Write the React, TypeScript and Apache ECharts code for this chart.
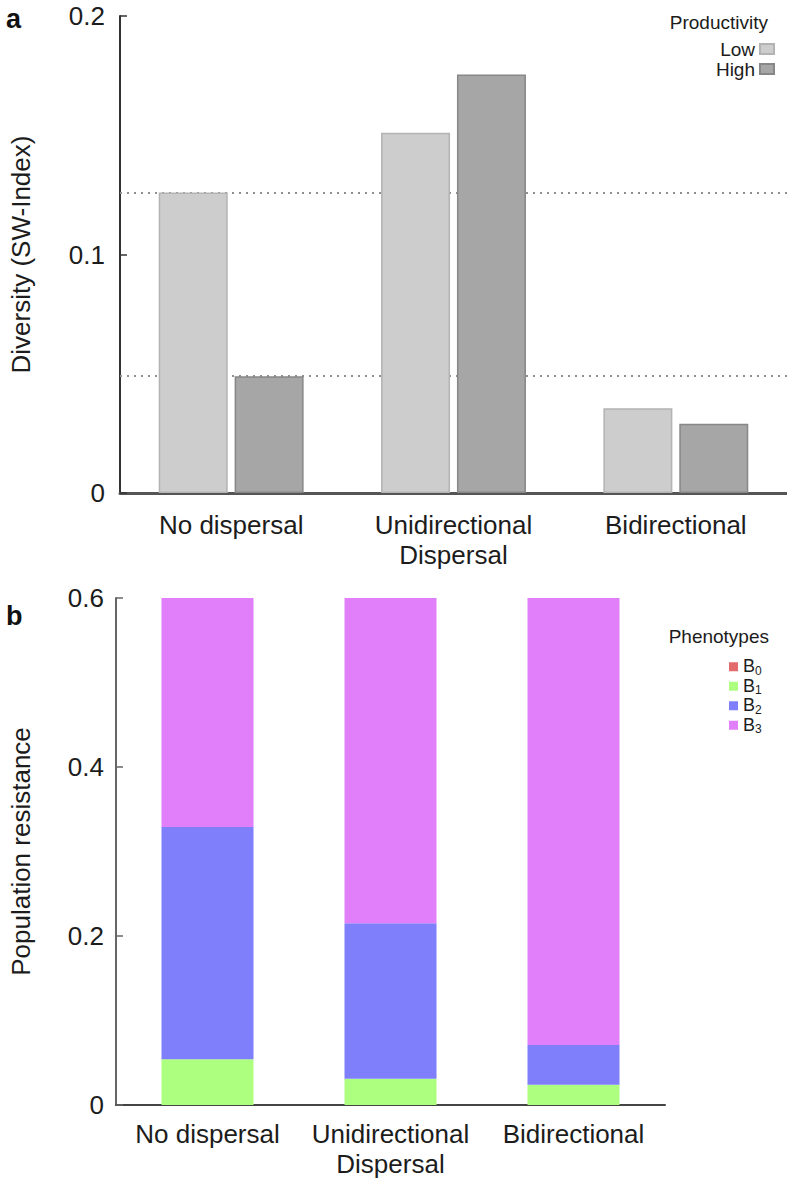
import React, { useEffect, useRef } from "react";
import * as echarts from "echarts";

const categories = ["No dispersal", "Unidirectional\nDispersal", "Bidirectional"];

// Panel a: diversity (SW-Index)
const productivityNames = ["Low", "High"];
const diversityLow = [0.126, 0.151, 0.0355];
const diversityHigh = [0.049, 0.1755, 0.029];
const diversityAxis = { min: 0, max: 0.2, interval: 0.1 };

// Panel b: population resistance by phenotype (stacked segments)
const phenotypeNames = ["B0", "B1", "B2", "B3"];
const phenoB0 = [0, 0, 0];
const phenoB1 = [0.054, 0.031, 0.024];
const phenoB2 = [0.275, 0.184, 0.047];
const phenoB3 = [0.271, 0.385, 0.529];
const resistanceAxis = { min: 0, max: 0.6, interval: 0.2 };

const FONT = "'Liberation Sans', Arial, Helvetica, sans-serif";
const TXT = "#1c1c1c";

export default function App() {
  const ref = useRef<HTMLDivElement>(null);

  useEffect(() => {
    document.body.style.margin = "0";
    if (!ref.current) return;
    const chart = echarts.init(ref.current, null, { renderer: "svg" });

    const phenoColors = ["#e46b6b", "#adff80", "#7f7ffc", "#e07ff9"];
    const phenoData = [phenoB0, phenoB1, phenoB2, phenoB3];

    const option: any = {
      animation: false,
      backgroundColor: "#ffffff",
      textStyle: { fontFamily: FONT, color: TXT },
      title: [
        { text: "a", left: 1, top: 0, textStyle: { fontFamily: FONT, fontSize: 27, fontWeight: "bold", color: "#111" } },
        { text: "b", left: 1, top: 597, textStyle: { fontFamily: FONT, fontSize: 27, fontWeight: "bold", color: "#111" } },
        { text: "Productivity", right: 14, top: 8, textStyle: { fontFamily: FONT, fontSize: 19, fontWeight: "normal", color: TXT } },
        { text: "Phenotypes", right: 13, top: 622, textStyle: { fontFamily: FONT, fontSize: 19, fontWeight: "normal", color: TXT } },
      ],
      legend: [
        {
          data: productivityNames,
          orient: "vertical",
          right: 12,
          top: 39,
          align: "right",
          itemWidth: 14,
          itemHeight: 10,
          itemGap: 0,
          padding: 0,
          icon: "rect",
          textStyle: { fontFamily: FONT, fontSize: 19, color: TXT, lineHeight: 20 },
        },
        {
          data: phenotypeNames,
          orient: "vertical",
          left: 729,
          top: 657,
          align: "left",
          itemWidth: 9,
          itemHeight: 9,
          itemGap: 0,
          padding: 0,
          icon: "rect",
          formatter: (name: string) => `{b|B}{s|${name.slice(1)}}`,
          textStyle: {
            fontFamily: FONT,
            color: TXT,
            lineHeight: 19.5,
            rich: {
              b: { fontFamily: FONT, fontSize: 18, color: TXT, lineHeight: 19.5, verticalAlign: "top" },
              s: { fontFamily: FONT, fontSize: 12, color: TXT, lineHeight: 19.5, verticalAlign: "bottom" },
            },
          },
        },
      ],
      grid: [
        { left: 113, top: 16, width: 674, height: 477, containLabel: false },
        { left: 111, top: 598, width: 554, height: 507, containLabel: false },
      ],
      xAxis: [
        {
          type: "category",
          gridIndex: 0,
          data: categories,
          axisLine: { lineStyle: { color: "#555", width: 3 } },
          axisTick: { show: false },
          axisLabel: { interval: 0, fontFamily: FONT, fontSize: 26, color: TXT, margin: 17, lineHeight: 30 },
        },
        {
          type: "category",
          gridIndex: 1,
          data: categories,
          axisLine: { lineStyle: { color: "#444", width: 2 } },
          axisTick: { show: false },
          axisLabel: { interval: 0, hideOverlap: false, fontFamily: FONT, fontSize: 26, color: TXT, margin: 14, lineHeight: 30 },
        },
      ],
      yAxis: [
        {
          type: "value",
          gridIndex: 0,
          min: diversityAxis.min,
          max: diversityAxis.max,
          interval: diversityAxis.interval,
          name: "Diversity (SW-Index)",
          nameLocation: "middle",
          nameGap: 86,
          nameTextStyle: { fontFamily: FONT, fontSize: 26, color: TXT },
          axisLine: { show: true, lineStyle: { color: "#333", width: 2 } },
          axisTick: { show: true, inside: true, length: 7, lineStyle: { color: "#333", width: 1.5 } },
          axisLabel: { fontFamily: FONT, fontSize: 26, color: TXT, margin: 15 },
          splitLine: { show: false },
        },
        {
          type: "value",
          gridIndex: 1,
          min: resistanceAxis.min,
          max: resistanceAxis.max,
          interval: resistanceAxis.interval,
          name: "Population resistance",
          nameLocation: "middle",
          nameGap: 82,
          nameTextStyle: { fontFamily: FONT, fontSize: 26, color: TXT },
          axisLine: { show: true, lineStyle: { color: "#666", width: 2 } },
          axisTick: { show: true, inside: true, length: 7, lineStyle: { color: "#666", width: 1.5 } },
          axisLabel: { fontFamily: FONT, fontSize: 26, color: TXT, margin: 12 },
          splitLine: { show: false },
        },
      ],
      series: [
        {
          name: productivityNames[0],
          type: "bar",
          xAxisIndex: 0,
          yAxisIndex: 0,
          data: diversityLow,
          barWidth: 69,
          barGap: "10%",
          itemStyle: { color: "#cdcdcd", borderColor: "#b3b3b3", borderWidth: 1.5 },
          markLine: {
            z: 1,
            silent: true,
            precision: 4,
            symbol: "none",
            label: { show: false },
            lineStyle: { type: [2, 5], color: "#8f8f8f", width: 2 },
            data: [{ yAxis: diversityLow[0] }, { yAxis: diversityHigh[0] }],
          },
        },
        {
          name: productivityNames[1],
          type: "bar",
          xAxisIndex: 0,
          yAxisIndex: 0,
          data: diversityHigh,
          barWidth: 69,
          barGap: "10%",
          itemStyle: { color: "#a6a6a6", borderColor: "#878787", borderWidth: 1.5 },
        },
        ...phenotypeNames.map((name, i) => ({
          name,
          type: "bar",
          xAxisIndex: 1,
          yAxisIndex: 1,
          stack: "pheno",
          barWidth: 92,
          data: phenoData[i],
          itemStyle: { color: phenoColors[i] },
        })),
      ],
    };

    chart.setOption(option);
    return () => chart.dispose();
  }, []);

  return (
    <div
      ref={ref}
      style={{ position: "absolute", left: 0, top: 0, width: 787, height: 1181 }}
    />
  );
}
